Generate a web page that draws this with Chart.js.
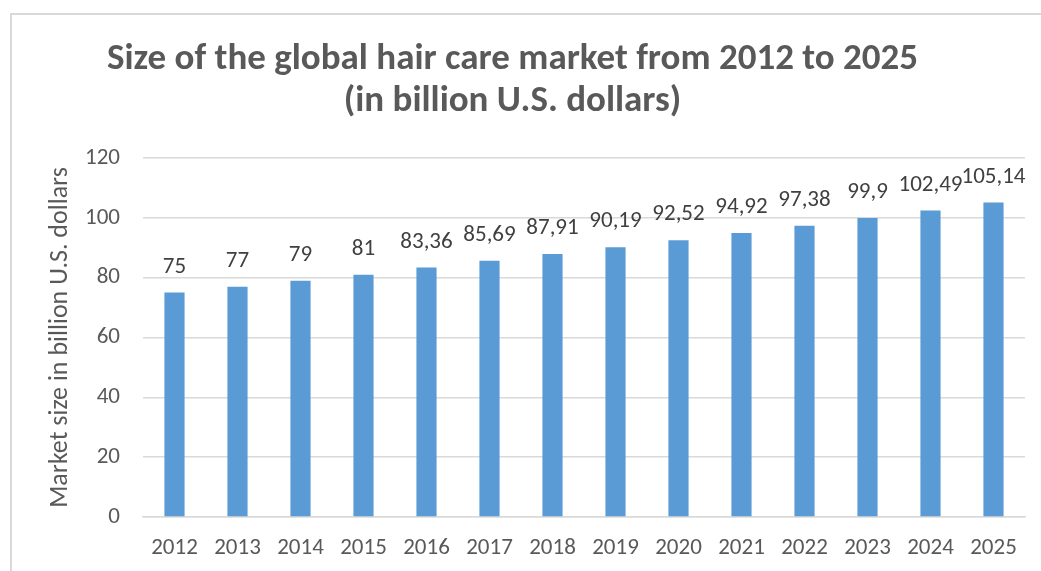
<!DOCTYPE html>
<html>
<head>
<meta charset="utf-8">
<script src="https://cdn.jsdelivr.net/npm/chart.js@4"></script>
<style>
  html, body { margin: 0; padding: 0; background: #fff; overflow: hidden; }
  #frame { position: absolute; left: 10px; top: 13px; width: 1100px; height: 700px; border: 2px solid #d9d9d9; box-sizing: border-box; }
  #wrap { position: absolute; left: 0; top: 0; width: 1041px; height: 571px; }
</style>
</head>
<body>
<div id="frame"></div>
<div id="wrap"><canvas id="marketChart" width="1041" height="571"></canvas></div>
<script>
const years = ["2012", "2013", "2014", "2015", "2016", "2017", "2018", "2019", "2020", "2021", "2022", "2023", "2024", "2025"];
const marketSize = [75, 77, 79, 81, 83.36, 85.69, 87.91, 90.19, 92.52, 94.92, 97.38, 99.9, 102.49, 105.14];
const yTicks = [0, 20, 40, 60, 80, 100, 120];

const FONT = "Carlito, Lato, sans-serif";
const GREY = "#595959";

// labels above each bar, decimal comma like the original
const barLabels = {
  id: "barLabels",
  afterDatasetsDraw(chart) {
    const ctx = chart.ctx;
    const meta = chart.getDatasetMeta(0);
    ctx.save();
    ctx.font = "23px " + FONT;
    ctx.fillStyle = "#404040";
    ctx.textAlign = "center";
    ctx.textBaseline = "bottom";
    meta.data.forEach((bar, i) => {
      const txt = String(marketSize[i]).replace(".", ",");
      ctx.fillText(txt, bar.x, bar.y - 14);
    });
    ctx.restore();
  }
};

new Chart(document.getElementById("marketChart"), {
  type: "bar",
  data: {
    labels: years,
    datasets: [{
      data: marketSize,
      backgroundColor: "#5b9bd5",
      barPercentage: 0.32,
      categoryPercentage: 1
    }]
  },
  options: {
    responsive: false,
    animation: false,
    layout: { padding: { left: 0, right: 16, top: 0, bottom: 0 } },
    plugins: {
      legend: { display: false },
      tooltip: { enabled: false },
      title: {
        display: true,
        text: ["Size of the global hair care market from 2012 to 2025", "(in billion U.S. dollars)"],
        color: GREY,
        font: { family: FONT, size: 37, weight: "bold", lineHeight: 1.135 },
        padding: { top: 39, bottom: 35 }
      }
    },
    scales: {
      x: {
        grid: { display: false, drawTicks: false },
        border: { color: "#d9d9d9", width: 1.5 },
        ticks: { color: GREY, font: { family: FONT, size: 23 }, padding: 17, maxRotation: 0 },
        afterFit(scale) { scale.height = 54; }
      },
      y: {
        min: 0,
        max: 120,
        afterBuildTicks(scale) { scale.ticks = yTicks.map(v => ({ value: v })); },
        grid: { color: "#d9d9d9", lineWidth: 1.5, drawTicks: false },
        border: { display: false },
        ticks: { color: GREY, font: { family: FONT, size: 23 }, padding: 23 },
        title: {
          display: true,
          text: "Market size in billion U.S. dollars",
          color: GREY,
          font: { family: FONT, size: 26 },
          padding: { top: 45, bottom: 0 }
        },
        afterFit(scale) { scale.width = 143; }
      }
    }
  },
  plugins: [barLabels]
});
</script>
</body>
</html>
